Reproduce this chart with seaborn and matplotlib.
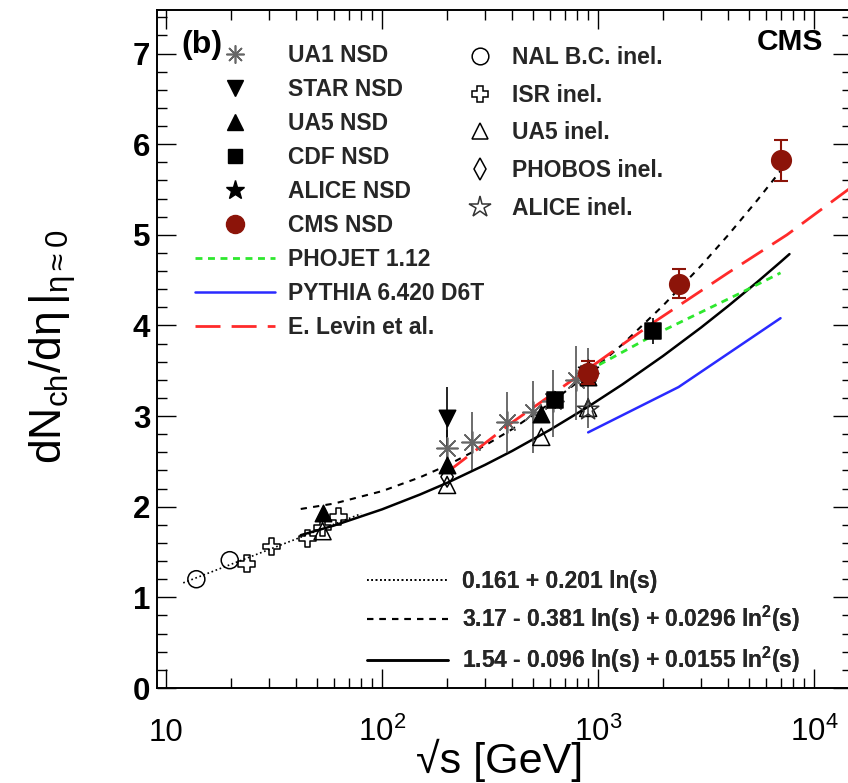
import matplotlib
matplotlib.use("Agg")
import matplotlib.pyplot as plt
from matplotlib.lines import Line2D
from matplotlib.ticker import LogLocator, MultipleLocator, NullFormatter
from matplotlib.mathtext import MathTextParser
import seaborn as sns

# ---------------- data ----------------
nal_x = [13.8, 19.7]
nal_y = [1.20, 1.41]

isr_x = [23.6, 30.8, 45.2, 53.0, 62.8]
isr_y = [1.37, 1.56, 1.65, 1.77, 1.89]

ua1_x = [200, 260, 380, 500, 620, 790, 900]
ua1_y = [2.65, 2.71, 2.94, 3.05, 3.17, 3.40, 3.48]
ua1_err_lo = [0.20, 0.30, 0.35, 0.46, 0.40, 0.44, 0.61]
ua1_err_hi = [0.20, 0.33, 0.33, 0.34, 0.34, 0.37, 0.27]

star_x = [200]
star_y = [2.98]
star_err = [0.34]

ua5nsd_x = [53, 200, 546, 900]
ua5nsd_y = [1.93, 2.46, 3.02, 3.43]

ua5inel_x = [53, 200, 546, 900]
ua5inel_y = [1.73, 2.24, 2.77, 3.09]

cdf_x = [630, 1800]
cdf_y = [3.18, 3.94]
cdf_err = [0.10, 0.14]

alice_nsd_x = [900]
alice_nsd_y = [3.51]

alice_inel_x = [900]
alice_inel_y = [3.07]

phobos_x = [200]
phobos_y = [2.33]

cms_x = [900, 2360, 7000]
cms_y = [3.48, 4.46, 5.82]
cms_err = [0.13, 0.16, 0.23]

# fit curves / model curves
fit_lin_x = [12, 30, 80]
fit_lin_y = [1.160, 1.528, 1.923]

fit_quad1_x = [42, 60, 100, 150, 200, 300, 400, 600, 900, 1300, 2000, 3000, 4000, 5500, 7000]
fit_quad1_y = [1.975, 2.035, 2.172, 2.325, 2.456, 2.676, 2.855, 3.141, 3.465, 3.793, 4.219,
               4.659, 4.995, 5.390, 5.705]

fit_quad2_x = [42, 60, 100, 150, 200, 300, 400, 600, 900, 1300, 2000, 3000, 4000, 5500, 7000, 7700]
fit_quad2_y = [1.686, 1.793, 1.971, 2.135, 2.263, 2.462, 2.615, 2.849, 3.103, 3.351, 3.663,
               3.977, 4.213, 4.485, 4.700, 4.787]

phojet_x = [900, 1800, 4500, 7000]
phojet_y = [3.50, 3.89, 4.35, 4.58]

pythia_x = [900, 2360, 7000]
pythia_y = [2.82, 3.32, 4.08]

levin_x = [200, 400, 900, 1800, 4000, 7500, 15000]
levin_y = [2.38, 2.93, 3.52, 4.03, 4.58, 5.00, 5.53]

legend1_labels = ["UA1 NSD", "STAR NSD", "UA5 NSD", "CDF NSD", "ALICE NSD", "CMS NSD",
                  "PHOJET 1.12", "PYTHIA 6.420 D6T", "E. Levin et al."]
legend2_labels = ["NAL B.C. inel.", "ISR inel.", "UA5 inel.", "PHOBOS inel.", "ALICE inel."]
legend3_labels = ["0.161 + 0.201 ln(s)",
                  r"3.17 - 0.381 ln(s) + 0.0296 ln$^{\mathbf{2}}$(s)",
                  r"1.54 - 0.096 ln(s) + 0.0155 ln$^{\mathbf{2}}$(s)"]
xtick_vals = [10, 100, 1000, 10000]
xtick_labels = ["10", r"$10^{2}$", r"$10^{3}$", r"$10^{4}$"]

# ---------------- style ----------------
sns.set_theme(style="ticks")
plt.rcParams['font.family'] = ['Liberation Sans', 'DejaVu Sans']
plt.rcParams.update({
    'mathtext.fontset': 'custom',
    'mathtext.rm': 'Liberation Sans',
    'mathtext.it': 'Liberation Sans:italic',
    'mathtext.bf': 'Liberation Sans:bold',
    'mathtext.sf': 'Liberation Sans',
    'mathtext.default': 'regular',
})

cms_color = '#8c1409'
phojet_color = '#2ee82e'
pythia_color = '#2a2aff'
levin_color = '#ff2a2a'
ua1_color = '#666666'

W, H = 848, 783
fig = plt.figure(figsize=(W / 100, H / 100), dpi=100)
L, R, T, B = 157.3, 852.0, 10.0, 688.0
ax = fig.add_axes([L / W, 1 - B / H, (R - L) / W, (B - T) / H])
ax.set_xscale('log')
ax.set_xlim(9.1, 15000)
ax.set_ylim(0, 7.48)

# ---------------- curves ----------------
def curve(x, y, color, lw, ls, z=2):
    sns.lineplot(x=x, y=y, ax=ax, color=color, lw=lw, linestyle=ls,
                 estimator=None, sort=False, legend=False, zorder=z)

curve(fit_lin_x, fit_lin_y, 'black', 1.2, (0, (1, 1.6)))
curve(fit_quad1_x, fit_quad1_y, 'black', 1.5, (0, (3, 3)))
curve(fit_quad2_x, fit_quad2_y, 'black', 1.8, '-')
curve(phojet_x, phojet_y, phojet_color, 2.0, (0, (2.5, 2)))
curve(pythia_x, pythia_y, pythia_color, 1.8, '-')
curve(levin_x, levin_y, levin_color, 2.0, (0, (9, 4)))

# ---------------- error bars ----------------
ax.errorbar(ua1_x, ua1_y, yerr=[ua1_err_lo, ua1_err_hi], fmt='none', ecolor='#444444',
            elinewidth=1.1, capsize=0, zorder=3)
ax.errorbar(star_x, star_y, yerr=star_err, fmt='none', ecolor='black', elinewidth=1.2,
            capsize=0, zorder=3)
ax.errorbar(cdf_x, cdf_y, yerr=cdf_err, fmt='none', ecolor='black', elinewidth=1.2,
            capsize=0, zorder=3)
ax.errorbar(cms_x, cms_y, yerr=cms_err, fmt='none', ecolor=cms_color, elinewidth=1.5,
            capsize=5, capthick=1.5, zorder=6)

# ---------------- points ----------------
def pts(x, y, marker, s, fc, ec, lw=1.1, z=4):
    sns.scatterplot(x=x, y=y, ax=ax, marker=marker, s=s, facecolor=fc, edgecolor=ec,
                    linewidth=lw, zorder=z, legend=False)

pts(nal_x, nal_y, 'o', 150, 'none', 'black')
pts(isr_x, isr_y, 'P', 150, 'none', 'black')
pts(ua5inel_x, ua5inel_y, '^', 150, 'none', 'black')
pts(phobos_x, phobos_y, 'd', 110, 'none', 'black')
pts(alice_inel_x, alice_inel_y, '*', 260, 'none', '#333333')
sns.scatterplot(x=ua1_x, y=ua1_y, ax=ax, marker=(8, 2, 0), s=230, color=ua1_color,
                linewidth=1.2, zorder=4, legend=False)
pts(star_x, star_y, 'v', 140, 'black', 'black', z=5)
pts(ua5nsd_x, ua5nsd_y, '^', 140, 'black', 'black', z=5)
pts(cdf_x, cdf_y, 's', 130, 'black', 'black', z=5)
pts(alice_nsd_x, alice_nsd_y, '*', 230, 'black', 'black', z=5)
pts(cms_x, cms_y, 'o', 200, cms_color, cms_color, z=7)

# ---------------- axes cosmetics ----------------
ax.set_xticks(xtick_vals, xtick_labels)
ax.xaxis.set_minor_locator(LogLocator(base=10, subs=range(2, 10), numticks=30))
ax.xaxis.set_minor_formatter(NullFormatter())
ax.set_yticks(range(8))
ax.yaxis.set_minor_locator(MultipleLocator(0.2))
ax.tick_params(which='both', direction='in', top=True, right=True, color='black', width=1.0)
ax.tick_params(which='major', length=14)
ax.tick_params(which='minor', length=7)
ax.tick_params(axis='x', which='major', labelsize=22.5, pad=38, labelcolor='black')
ax.tick_params(axis='y', which='major', labelsize=22.5, pad=5, labelcolor='black')
for lb in ax.get_xticklabels():
    lb.set_va('baseline')
for lb in ax.get_yticklabels():
    lb.set_fontweight('bold')
for sp in ax.spines.values():
    sp.set_linewidth(1.4)
    sp.set_color('black')

ax.set_xlabel('\u221as [GeV]', fontsize=31, color='black')
ax.xaxis.label.set_va('baseline')
ax.xaxis.set_label_coords(0.4933, -(773 - B) / (B - T))

ylab = r'$dN_{ch}/d\eta\,\left|\frac{}{}\right._{\eta\approx0}$'
try:
    MathTextParser('agg').parse(ylab, dpi=100)
except Exception:
    ylab = r'$dN_{ch}/d\eta\,|_{\eta\approx0}$'
ylab = r'$dN_{ch}/d\eta\,|_{\eta\approx0}$'
ax.set_ylabel(ylab, fontsize=32, color='black')
ax.yaxis.label.set_va('center')
ax.yaxis.set_label_coords(-0.151, 0.503)

# ---------------- legends ----------------
fs = 16.5
prop = dict(weight='bold', size=fs)

h1 = [
    Line2D([], [], ls='none', marker=(8, 2, 0), color=ua1_color, ms=13, mew=1.2),
    Line2D([], [], ls='none', marker='v', color='black', ms=11),
    Line2D([], [], ls='none', marker='^', color='black', ms=11),
    Line2D([], [], ls='none', marker='s', color='black', ms=10),
    Line2D([], [], ls='none', marker='*', color='black', ms=14),
    Line2D([], [], ls='none', marker='o', color=cms_color, ms=13),
    Line2D([], [], color=phojet_color, lw=2, ls=(0, (2.5, 2))),
    Line2D([], [], color=pythia_color, lw=1.8),
    Line2D([], [], color=levin_color, lw=2, ls=(0, (9, 4))),
]
leg1 = ax.legend(h1, legend1_labels, loc='upper left', bbox_to_anchor=(195 / W, 1 - 44 / H),
                 bbox_transform=fig.transFigure, frameon=False, prop=prop, handlelength=3.5,
                 handletextpad=0.57, labelspacing=0.48, borderpad=0, borderaxespad=0,
                 numpoints=1)
ax.add_artist(leg1)

h2 = [
    Line2D([], [], ls='none', marker='o', mfc='none', mec='black', ms=12, mew=1.1),
    Line2D([], [], ls='none', marker='P', mfc='none', mec='black', ms=12, mew=1.1),
    Line2D([], [], ls='none', marker='^', mfc='none', mec='black', ms=12, mew=1.1),
    Line2D([], [], ls='none', marker='d', mfc='none', mec='black', ms=11, mew=1.1),
    Line2D([], [], ls='none', marker='*', mfc='none', mec='#333333', ms=16, mew=1.1),
]
leg2 = ax.legend(h2, legend2_labels, loc='upper left', bbox_to_anchor=(466 / W, 1 - 46 / H),
                 bbox_transform=fig.transFigure, frameon=False, prop=prop, handlelength=1.2,
                 handletextpad=0.8, labelspacing=0.64, borderpad=0, borderaxespad=0,
                 numpoints=1)
ax.add_artist(leg2)

h3 = [
    Line2D([], [], color='black', lw=1.2, ls=(0, (1, 1.6))),
    Line2D([], [], color='black', lw=1.5, ls=(0, (3, 3))),
    Line2D([], [], color='black', lw=1.8),
]
leg3 = ax.legend(h3, legend3_labels, loc='upper left', bbox_to_anchor=(367 / W, 1 - 570 / H),
                 bbox_transform=fig.transFigure, frameon=False, prop=prop, handlelength=3.54,
                 handletextpad=0.6, labelspacing=0.48, borderpad=0, borderaxespad=0)
ax.add_artist(leg3)

fig.text(181.7 / W, 1 - 45 / H, '(b)', ha='left', va='center', fontsize=23,
         fontweight='bold', color='black')
fig.text(823 / W, 1 - 42 / H, 'CMS', ha='right', va='center', fontsize=21.5,
         fontweight='bold', color='black')

fig.savefig('out.png', dpi=100)
